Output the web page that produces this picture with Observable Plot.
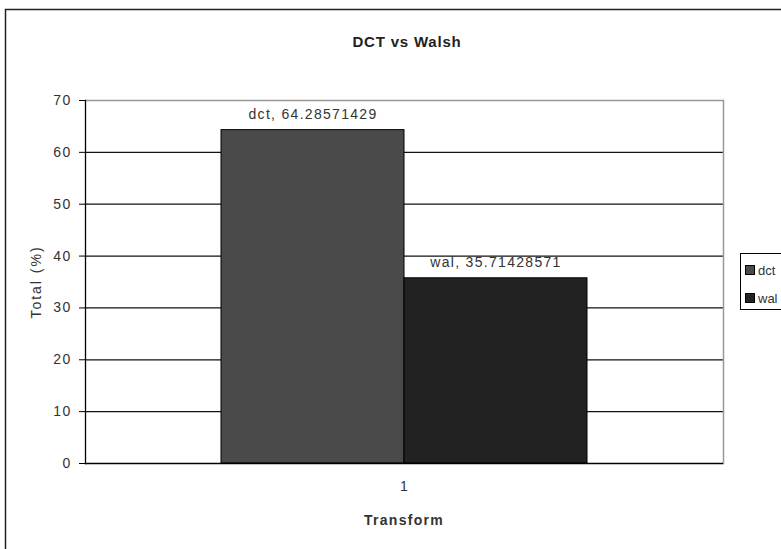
<!DOCTYPE html>
<html><head><meta charset="utf-8">
<script src="https://cdn.jsdelivr.net/npm/d3@7"></script>
<script src="https://cdn.jsdelivr.net/npm/@observablehq/plot@0.6"></script>
<style>html,body{margin:0;padding:0;background:#fff;overflow:hidden}</style>
</head><body><div id="chart"></div>
<script>
const categories = ["1"];
const series = ["dct", "wal"];
const values = [64.28571429, 35.71428571];
const yTicks = [0, 10, 20, 30, 40, 50, 60, 70];
const labels = ["dct, 64.28571429", "wal, 35.71428571"];
const legendLabels = ["dct", "wal"];
const title = "DCT vs Walsh";
const xTitle = "Transform";
const yTitle = "Total (%)";
const colors = ["#4a4a4a", "#222222"];

const data = series.map((s, i) => ({group: categories[0], series: s, value: values[i], label: labels[i]}));

const W = 781, H = 549, mL = 85, mR = 58, mT = 100, mB = 86;
const font = "'Liberation Sans', Arial, sans-serif";
const chart = Plot.plot({
  width: W, height: H, marginLeft: mL, marginRight: mR, marginTop: mT, marginBottom: mB,
  style: {fontFamily: font, fontSize: "14px", letterSpacing: "1.3px", background: "#fff", color: "#222", overflow: "hidden"},
  fx: {domain: categories, padding: 0},
  x: {domain: series, paddingInner: 0, paddingOuter: 0.738, axis: null},
  y: {domain: [0, 70]},
  color: {domain: series, range: colors},
  marks: [
    Plot.gridY(yTicks.filter(d => d > 0 && d < 70), {stroke: "#111", strokeOpacity: 1, strokeWidth: 1.2}),
    Plot.ruleY([70], {stroke: "#999", strokeWidth: 1.5}),
    Plot.frame({anchor: "right", stroke: "#999", strokeWidth: 1.5}),
    Plot.barY(data, {fx: "group", x: "series", y: "value", fill: "series", stroke: "#000", strokeWidth: 1}),
    Plot.text(data, {fx: "group", x: "series", y: "value", text: "label", lineAnchor: "bottom", dy: -11, fill: "#333"}),
    Plot.ruleY([0], {stroke: "#000", strokeWidth: 1.3}),
    Plot.frame({anchor: "left", stroke: "#000", strokeWidth: 1.3}),
    Plot.axisY({ticks: yTicks, tickSize: 6, tickPadding: 8, label: null, tickFormat: d => String(d), stroke: "#000", fill: "#333"}),
    Plot.axisFx({anchor: "bottom", tickSize: 0, tickPadding: 18, label: null, fill: "#333"})
  ]
});
document.getElementById("chart").appendChild(chart);

const svg = d3.select(chart);
svg.append("rect").attr("x", 5.5).attr("y", 9.5).attr("width", 900).attr("height", 700)
  .attr("fill", "none").attr("stroke", "#222").attr("stroke-width", 1.5);
svg.append("text").attr("x", 407).attr("y", 47).attr("text-anchor", "middle")
  .attr("font-weight", "bold").attr("font-size", 15).attr("letter-spacing", "0.8px").attr("fill", "#222").text(title);
svg.append("text").attr("transform", "translate(36,282) rotate(-90)").attr("text-anchor", "middle")
  .attr("dominant-baseline", "central").attr("font-size", 14).attr("letter-spacing", "2px").attr("fill", "#333").text(yTitle);
svg.append("text").attr("x", 404).attr("y", 525).attr("text-anchor", "middle")
  .attr("font-weight", "bold").attr("font-size", 14).attr("fill", "#333").text(xTitle);
const lg = svg.append("g");
lg.append("rect").attr("x", 740.5).attr("y", 253.5).attr("width", 90).attr("height", 56)
  .attr("fill", "#fff").attr("stroke", "#000").attr("stroke-width", 1);
legendLabels.forEach((s, i) => {
  const cy = 270 + i * 28;
  lg.append("rect").attr("x", 745.5).attr("y", cy - 4.5).attr("width", 9).attr("height", 9)
    .attr("fill", colors[i]).attr("stroke", "#000").attr("stroke-width", 1);
  lg.append("text").attr("x", 758).attr("y", cy).attr("text-anchor", "start").attr("dominant-baseline", "central")
    .attr("font-size", 13).attr("letter-spacing", "0px").attr("fill", "#333").text(s);
});
</script>
</body></html>
